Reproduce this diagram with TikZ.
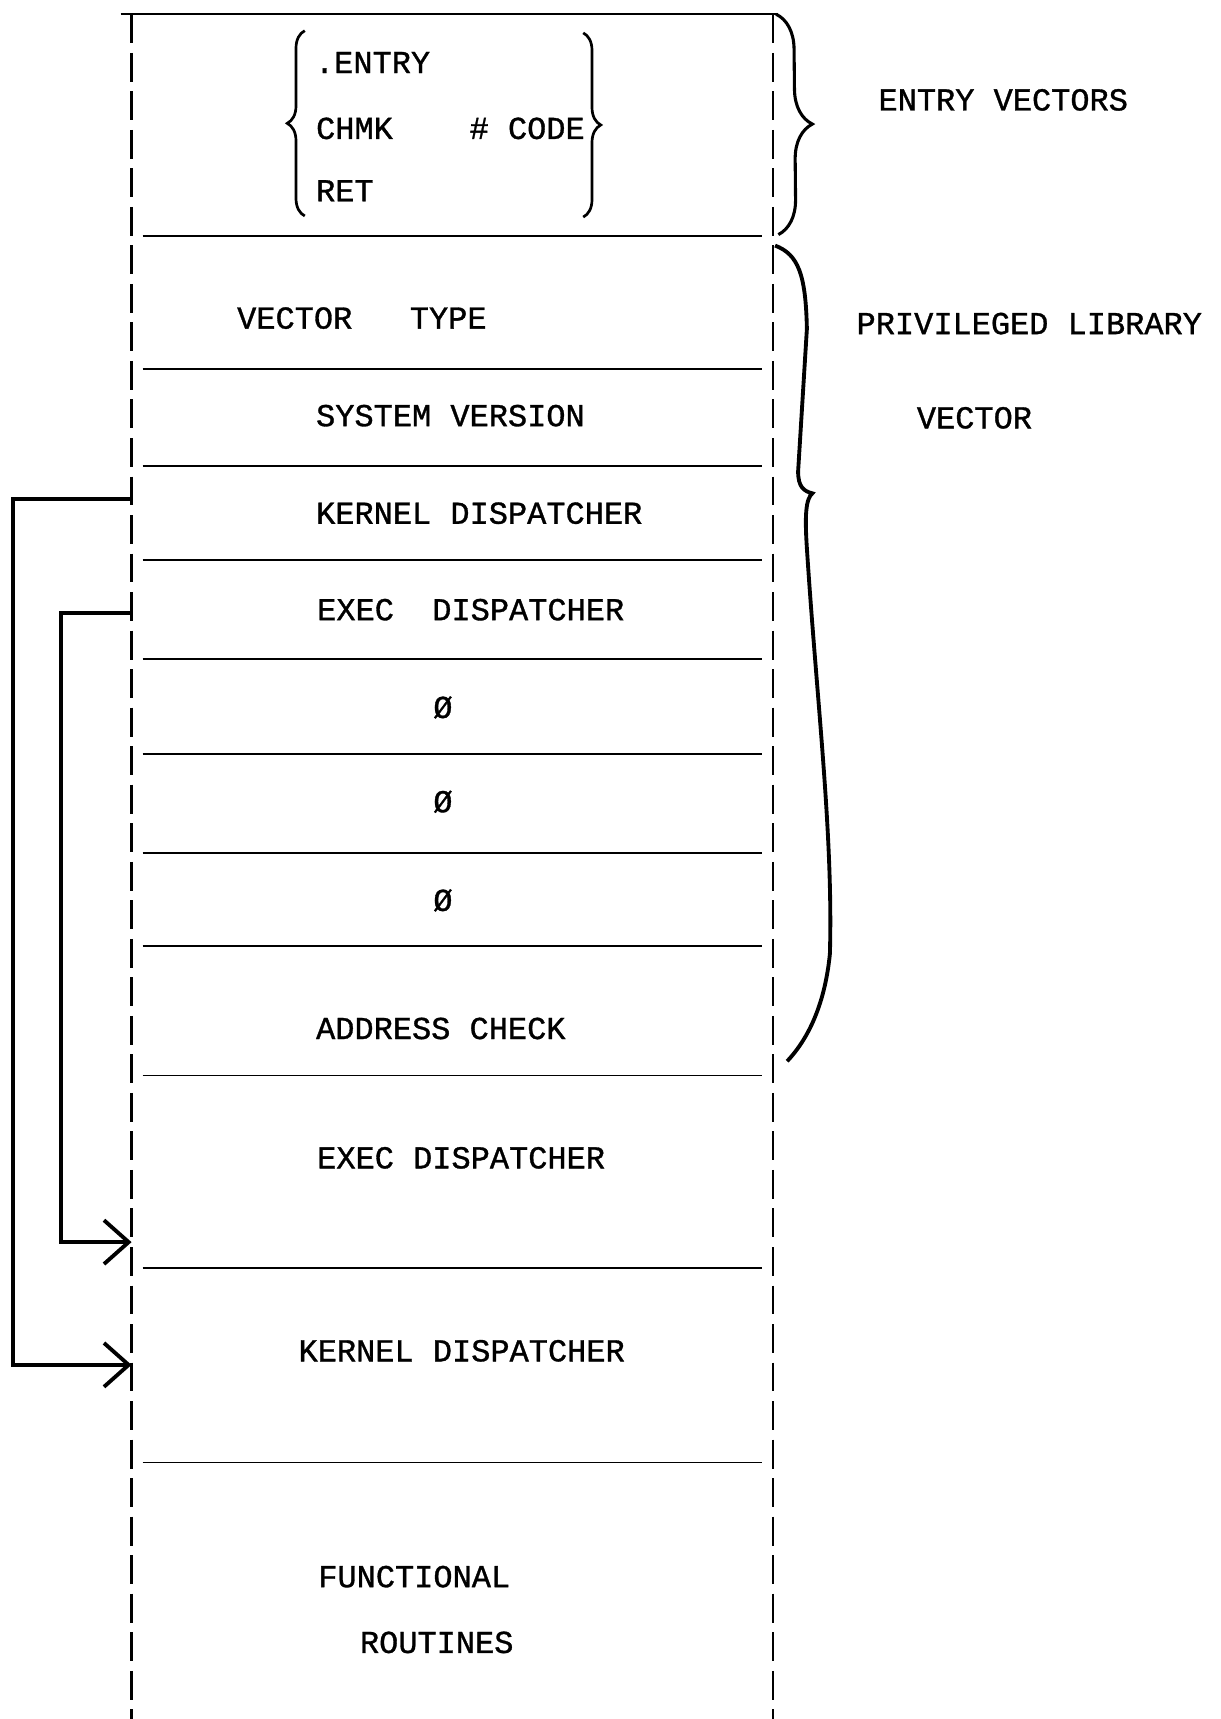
\documentclass[tikz,border=0pt]{standalone}
\usepackage{fontspec}
\setmainfont{Liberation Mono}[FakeBold=1]
\usepackage{tikz}
\usetikzlibrary{arrows.meta, decorations.pathreplacing}

\begin{document}
\begin{tikzpicture}[
        x=0.02cm, y=-0.02cm,
        % Styles
        txt/.style={anchor=west, inner sep=0pt, text depth=0pt, font=\fontsize{16.6}{20}\selectfont},
        frame/.style={line width=1.2pt, dash pattern=on 15pt off 5pt},
        sep/.style={line width=1pt},
        curly/.style={decorate, decoration={brace, amplitude=#1}, line width=1.4pt},
        link/.style={line width=2pt, -{Straight Barb[length=4.5mm, width=8mm]}}
    ]
        \useasboundingbox (0,0) rectangle (1113,1568);

        % Frame of the image
        \draw[sep, line width=1.2pt] (110,13) -- (710,13);
        \draw[frame] (120,13) -- (120,1568);
        \draw[frame] (705,13) -- (705,1568);

        % Separators
        \draw[sep] (130,215) -- (695,215);
        \draw[sep] (130,337) -- (695,337);
        \draw[sep] (130,425) -- (695,425);
        \draw[sep] (130,511) -- (695,511);
        \draw[sep] (130,601) -- (695,601);
        \draw[sep] (130,688) -- (695,688);
        \draw[sep] (130,778) -- (695,778);
        \draw[sep] (130,863) -- (695,863);
        \draw[sep] (130,981) -- (695,981);
        \draw[sep] (130,1157) -- (695,1157);
        \draw[sep] (130,1334) -- (695,1334);

        % Entry vector cell
        \node[txt] (entry) at (287,57) {.ENTRY};
        \node[txt] (chmk) at (288,117) {CHMK\ \ \ \ \#\ CODE};
        \node[txt] (ret) at (288,174) {RET};
        \draw[curly=0.32cm] (278,197) -- (278,28);
        \draw[curly=0.32cm] (532,30) -- (532,198);

        % Vector cells
        \node[txt] (vtype) at (216,290) {VECTOR\ \ \ TYPE};
        \node[txt] (sysver) at (288,379) {SYSTEM VERSION};
        \node[txt] (kvec) at (288,468) {KERNEL DISPATCHER};
        \node[txt] (evec) at (289,556) {EXEC\ \ DISPATCHER};
        \node[txt, anchor=center] (zeroa) at (404,645) {Ø};
        \node[txt, anchor=center] (zerob) at (404,731) {Ø};
        \node[txt, anchor=center] (zeroc) at (404,821) {Ø};
        \node[txt] (addr) at (288,938) {ADDRESS CHECK};

        % Code cells
        \node[txt] (eproc) at (289,1056) {EXEC DISPATCHER};
        \node[txt] (kproc) at (272,1232) {KERNEL DISPATCHER};
        \node[txt] (func) at (290,1438) {FUNCTIONAL};
        \node[txt] (rout) at (328,1498) {ROUTINES};

        % Labels on the right
        \node[txt] (lentry) at (801,91) {ENTRY VECTORS};
        \node[txt] (lpriv) at (781,295) {PRIVILEGED LIBRARY};
        \node[txt] (lvec) at (836,381) {VECTOR};

        % Right braces
        \draw[curly=0.64cm, line width=1.6pt] (708,13) -- (710,214);
        \draw[line width=2pt] (707,224) .. controls (728,232) and (735,250) .. (736,300)
            -- (728,430) .. controls (728,444) and (733,448) .. (741,450)
            .. controls (735,455) and (734,470) .. (736,500)
            .. controls (745,640) and (760,760) .. (757,870)
            .. controls (752,920) and (735,950) .. (718,968);

        % Dispatcher links
        \coordinate (kout) at (120,455);
        \coordinate (kin) at (120,1245);
        \coordinate (eout) at (120,559);
        \coordinate (ein) at (120,1133);
        \draw[link] (kout) -- ++(-108,0) |- (kin);
        \draw[link] (eout) -- ++(-64,0) |- (ein);
    \end{tikzpicture}
\end{document}
